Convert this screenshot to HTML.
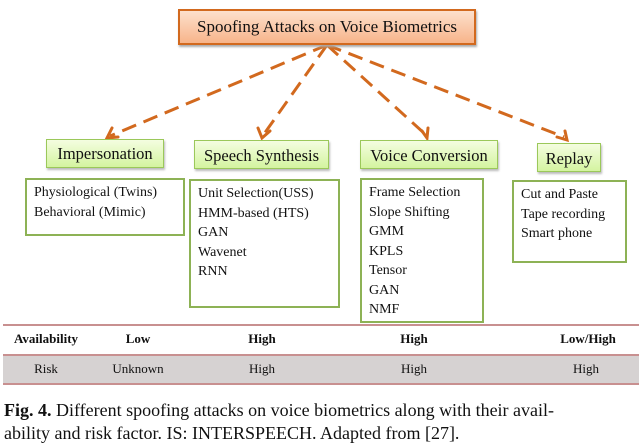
<!DOCTYPE html>
<html><head><style>
body{margin:0;width:639px;height:448px;background:#fff;position:relative;overflow:hidden;font-family:"Liberation Serif",serif;color:#111}
.a{position:absolute;box-sizing:border-box}
.top{left:178px;top:9px;width:298px;height:36px;border:2px solid #d2691e;background:linear-gradient(#fde0cc,#f7b48a);font-size:17px;text-align:center;line-height:32px;box-shadow:1px 2px 2px #aaa}
.g{background:linear-gradient(#f4fde0,#d4f4a0);border:1px solid #9bc85a;font-size:16.5px;text-align:center;box-shadow:1px 2px 2px #bbb}
.d{border:2px solid #8db255;font-size:14px;line-height:19.5px;padding:3px 0 0 7px;white-space:nowrap}
.t{position:absolute;font-size:13px;transform:translateX(-50%)}
</style></head><body>
<svg class="a" style="left:0;top:0" width="639" height="200">
<g stroke="#d2691e" stroke-width="3" stroke-dasharray="15,8" fill="none">
<line x1="327" y1="45" x2="110" y2="136"/><line x1="327" y1="45" x2="264" y2="134"/>
<line x1="327" y1="45" x2="425" y2="134"/><line x1="327" y1="45" x2="564" y2="137"/>
</g>
<g stroke="#d2691e" stroke-width="3" fill="none" stroke-linecap="round">
<polyline points="112,128 107,138 118,137"/><polyline points="258,128 262,138 270,131"/>
<polyline points="422,131 427,138 428,128"/><polyline points="557,137 567,140 565,131"/>
</g></svg>
<div class="a top">Spoofing Attacks on Voice Biometrics</div>
<div class="a g" style="left:46px;top:139px;width:118px;height:29px;line-height:28px">Impersonation</div>
<div class="a g" style="left:194px;top:140px;width:135px;height:29px;line-height:29px">Speech Synthesis</div>
<div class="a g" style="left:360px;top:140px;width:138px;height:29px;line-height:29px">Voice Conversion</div>
<div class="a g" style="left:537px;top:143px;width:64px;height:29px;line-height:29px">Replay</div>
<div class="a d" style="left:25px;top:178px;width:160px;height:58px">Physiological (Twins)<br>Behavioral (Mimic)</div>
<div class="a d" style="left:189px;top:179px;width:151px;height:129px">Unit Selection(USS)<br>HMM-based (HTS)<br>GAN<br>Wavenet<br>RNN</div>
<div class="a d" style="left:360px;top:178px;width:124px;height:145px">Frame Selection<br>Slope Shifting<br>GMM<br>KPLS<br>Tensor<br>GAN<br>NMF</div>
<div class="a d" style="left:512px;top:180px;width:115px;height:83px">Cut and Paste<br>Tape recording<br>Smart phone</div>
<div class="a" style="left:3px;top:324px;width:636px;height:2px;background:#c89090"></div>
<div class="a" style="left:3px;top:354px;width:636px;height:31px;background:#d6d2d2;border-top:2px solid #c89090;border-bottom:2px solid #c89090"></div>
<div class="t" style="left:46px;top:331px;font-weight:bold">Availability</div>
<div class="t" style="left:138px;top:331px;font-weight:bold">Low</div>
<div class="t" style="left:262px;top:331px;font-weight:bold">High</div>
<div class="t" style="left:414px;top:331px;font-weight:bold">High</div>
<div class="t" style="left:588px;top:331px;font-weight:bold">Low/High</div>
<div class="t" style="left:46px;top:361px">Risk</div>
<div class="t" style="left:138px;top:361px">Unknown</div>
<div class="t" style="left:262px;top:361px">High</div>
<div class="t" style="left:414px;top:361px">High</div>
<div class="t" style="left:586px;top:361px">High</div>
<div class="a" style="left:4px;top:399px;font-size:18px;line-height:23px;width:635px;white-space:nowrap"><b>Fig. 4.</b> Different spoofing attacks on voice biometrics along with their avail-<br>ability and risk factor. IS: INTERSPEECH. Adapted from [27].</div>
</body></html>
